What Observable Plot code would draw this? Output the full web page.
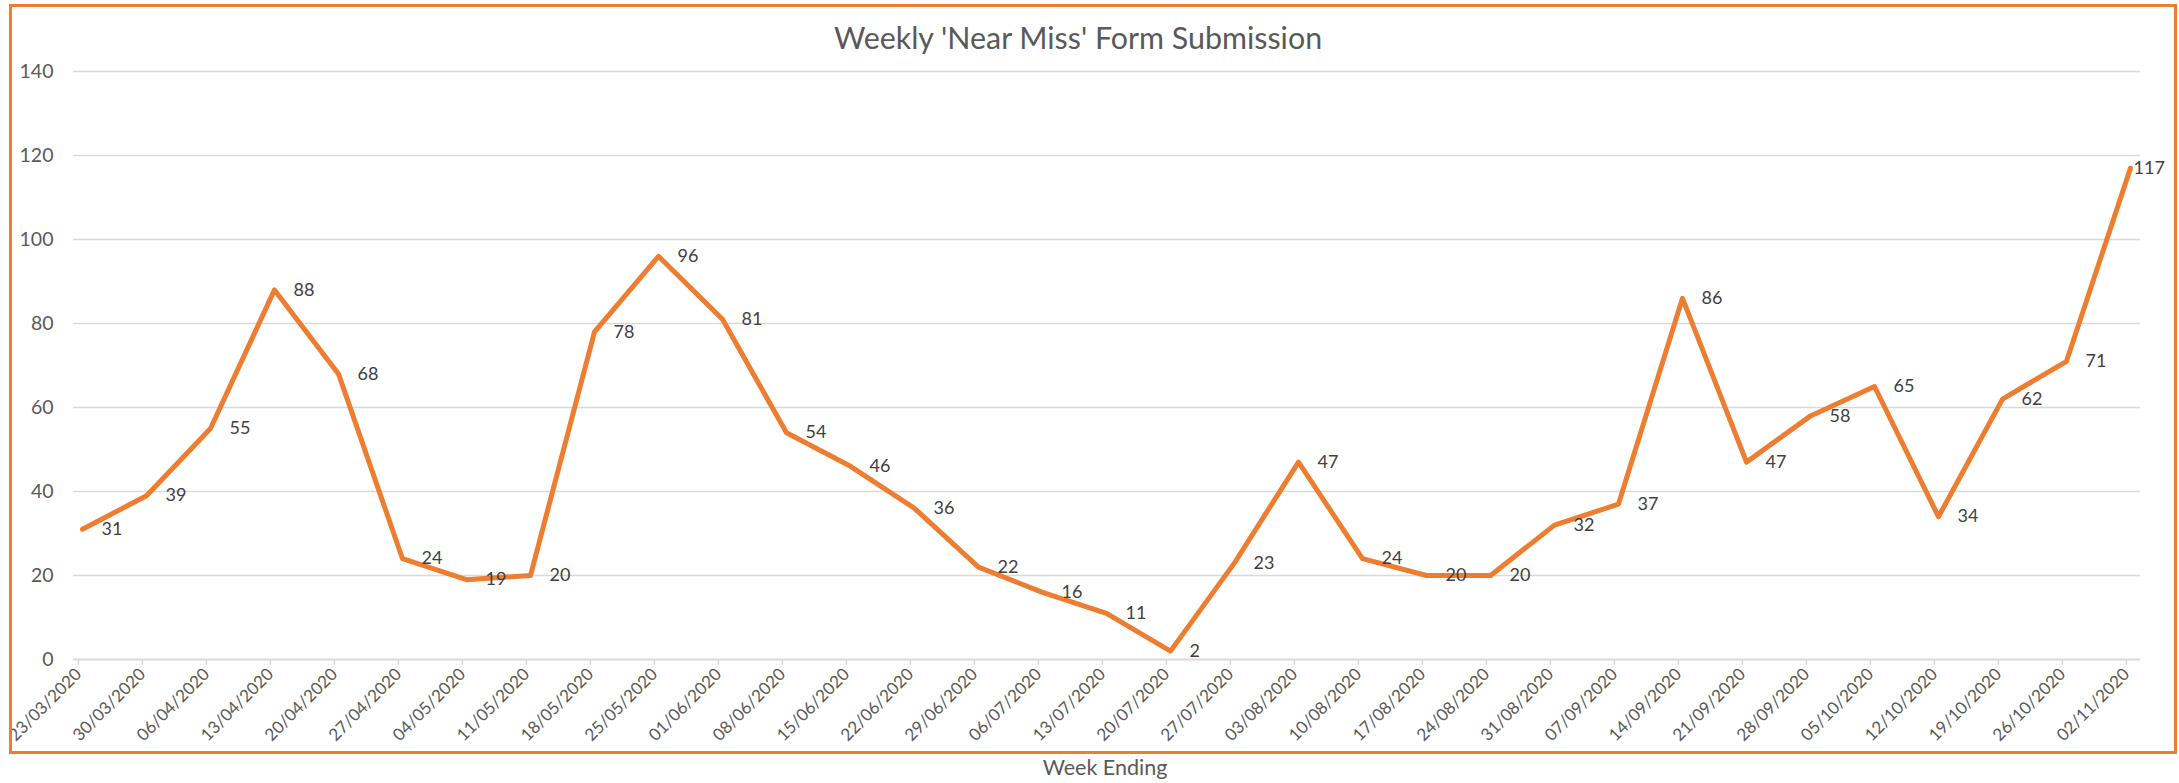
<!DOCTYPE html>
<html>
<head>
<meta charset="utf-8">
<script src="https://cdn.jsdelivr.net/npm/d3@7"></script>
<script src="https://cdn.jsdelivr.net/npm/@observablehq/plot@0.6"></script>
<style>
  html, body { margin: 0; padding: 0; background: #fff; }
  #wrap { position: relative; width: 2179px; height: 783px; overflow: hidden; font-family: Lato, "Open Sans", sans-serif; }
  #frame { position: absolute; left: 9px; top: 4px; width: 2168px; height: 750px; box-sizing: border-box; border: 3px solid #ED7D31; pointer-events: none; }
  #title { position: absolute; left: 0; width: 2156px; top: 22px; text-align: center; font-size: 30.4px; line-height: 30.4px; color: #595959; }
  #xlabel { position: absolute; left: 0; width: 2210px; top: 757px; text-align: center; font-size: 21.5px; line-height: 21.5px; color: #595959; }
  #chart { position: absolute; left: 0; top: 0; }
</style>
</head>
<body>
<div id="wrap">
  <div id="chart"></div>
  <div id="frame"></div>
  <div id="title">Weekly 'Near Miss' Form Submission</div>
  <div id="xlabel">Week Ending</div>
</div>
<script>
const weeks = ["23/03/2020","30/03/2020","06/04/2020","13/04/2020","20/04/2020","27/04/2020","04/05/2020","11/05/2020","18/05/2020","25/05/2020","01/06/2020","08/06/2020","15/06/2020","22/06/2020","29/06/2020","06/07/2020","13/07/2020","20/07/2020","27/07/2020","03/08/2020","10/08/2020","17/08/2020","24/08/2020","31/08/2020","07/09/2020","14/09/2020","21/09/2020","28/09/2020","05/10/2020","12/10/2020","19/10/2020","26/10/2020","02/11/2020"];
const counts = [31,39,55,88,68,24,19,20,78,96,81,54,46,36,22,16,11,2,23,47,24,20,20,32,37,86,47,58,65,34,62,71,117];
const yTicks = [0,20,40,60,80,100,120,140];

const data = weeks.map((w, i) => ({week: w, count: counts[i], idx: i}));
const lastIdx = data.length - 1;

const chart = Plot.plot({
  width: 2179,
  height: 783,
  marginLeft: 73,
  marginRight: 39,
  marginTop: 71,
  marginBottom: 124,
  style: {fontFamily: "Lato, 'Open Sans', sans-serif", background: "transparent", overflow: "visible"},
  x: {type: "point", domain: weeks, padding: 0, insetRight: 9, label: null},
  y: {domain: [0, 140], ticks: yTicks, label: null},
  marks: [
    Plot.gridY(yTicks.filter(d => d > 0), {stroke: "#D9D9D9", strokeOpacity: 1, strokeWidth: 1.5}),
    Plot.axisY(yTicks, {tickSize: 0, tickPadding: 20, fontSize: 19.5, color: "#595959", label: null}),
    Plot.ruleY([0], {stroke: "#D9D9D9", strokeWidth: 2}),
    Plot.axisX({tickSize: 6, tickPadding: 6, tickRotate: -45, fontSize: 17, color: "#595959", stroke: "#D9D9D9", strokeWidth: 1.5, label: null}),
    Plot.line(data, {x: "week", y: "count", stroke: "#ED7D31", strokeWidth: 5, dx: 4, strokeLinejoin: "round", strokeLinecap: "round"}),
    Plot.text(data.filter(d => d.idx !== lastIdx), {x: "week", y: "count", text: d => String(d.count), dx: 23, textAnchor: "start", fontSize: 18, fill: "#404040"}),
    Plot.text(data.filter(d => d.idx === lastIdx), {x: "week", y: "count", text: d => String(d.count), dx: 7, textAnchor: "start", fontSize: 18, fill: "#404040"})
  ]
});
document.getElementById("chart").appendChild(chart);
</script>
</body>
</html>
